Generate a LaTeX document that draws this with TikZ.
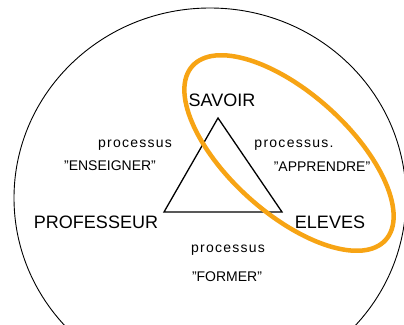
\documentclass[tikz,border=0pt]{standalone}
\usepackage{fontspec}
\setmainfont{Liberation Sans}
\definecolor{hiorange}{RGB}{247,164,20}
\begin{document}
\begin{tikzpicture}[x=1pt,y=-1pt,
  big/.style={font=\fontsize{18}{20}\selectfont, inner sep=0pt},
  small/.style={font=\fontsize{14}{16}\selectfont, inner sep=0pt},
  proc/.style={font=\fontsize{14}{16}\selectfont\addfontfeature{LetterSpace=9}, inner sep=0pt},
  edge/.style={line width=1.3pt, line join=miter}]
\useasboundingbox (0,0) rectangle (404,324);
\clip (0,0) rectangle (404,324);
\fill[white] (0,0) rectangle (404,324);
% outer ellipse
\draw[line width=0.9pt] (210,198) ellipse [x radius=196pt, y radius=190pt];
% triangle
\coordinate (S) at (218,118);
\coordinate (P) at (164,212);
\coordinate (E) at (282,212);
\draw[edge] (S) -- (P) -- (E) -- cycle;
% labels
\node[big] (savoir) at (222,100) {SAVOIR};
\node[big] (prof) at (96,222) {PROFESSEUR};
\node[big] (eleves) at (330,222) {ELEVES};
\node[proc] (p1) at (135,145) {processus};
\node[small] (ens) at (110,166) {"ENSEIGNER"};
\node[proc] (p2) at (294,145) {processus.};
\node[small] (app) at (322,167) {"APPRENDRE"};
\node[proc] (p3) at (228,250) {processus};
\node[small] (form) at (227,277) {"FORMER"};
% orange highlight
\draw[hiorange, line width=4.5pt, shift={(289,153)}, rotate=-42] (0,0) ellipse [x radius=130pt, y radius=60pt];
\end{tikzpicture}
\end{document}
